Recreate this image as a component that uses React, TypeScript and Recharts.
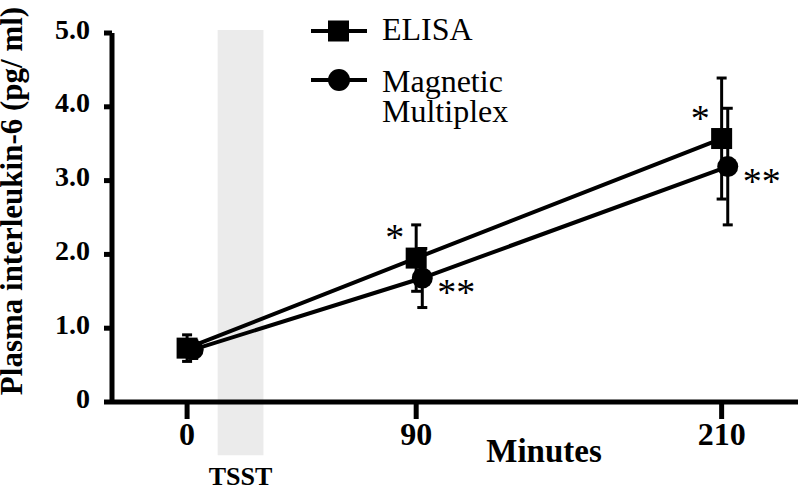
import {
  ComposedChart,
  ErrorBar,
  LabelList,
  Legend,
  Line,
  ReferenceArea,
  XAxis,
  YAxis,
} from "recharts";

// IL-6 plasmático medido por ELISA e por multiplex magnético, antes e depois do TSST
const minutes = [0, 90, 210];
const elisaMean = [0.73, 1.95, 3.57];
const elisaErr = [0.18, 0.45, 0.82];
const elisaSig = ["", "*", "*"];
const multiplexMean = [0.71, 1.68, 3.19];
const multiplexErr = [0.12, 0.4, 0.79];
const multiplexSig = ["", "**", "**"];
const yTicks = [0, 1, 2, 3, 4, 5];
const tsstWindow = [12, 30]; // minutos
const legendLines = [["ELISA"], ["Magnetic", "Multiplex"]];

const DODGE = 2.4; // desloca a série multiplex para as barras não se sobreporem
const SERIF = '"Liberation Serif", "Times New Roman", serif';

const elisaData = minutes.map((t, i) => ({ t, v: elisaMean[i], err: elisaErr[i], sig: elisaSig[i] }));
const multiplexData = minutes.map((t, i) => ({ t: t + DODGE, v: multiplexMean[i], err: multiplexErr[i], sig: multiplexSig[i] }));

const YTick = ({ x, y, payload }: any) => (
  <text x={x} y={y} dy={-4} textAnchor="end" dominantBaseline="central" style={{ fontFamily: SERIF }} fontWeight="bold" fontSize={28} fill="#000">
    {payload.value === 0 ? "0" : payload.value.toFixed(1)}
  </text>
);

const XTick = ({ x, y, payload }: any) => (
  <text x={x} y={y} dy={24} textAnchor="middle" style={{ fontFamily: SERIF }} fontWeight="bold" fontSize={32} fill="#000">
    {payload.value}
  </text>
);

const squareDot = (p: any) => (
  <rect key={`sq-${p.index}`} x={p.cx - 10.5} y={p.cy - 10.5} width={21} height={21} fill="#000" />
);
const circleDot = (p: any) => <circle key={`ci-${p.index}`} cx={p.cx} cy={p.cy} r={10.5} fill="#000" />;

// asteriscos: ELISA acima/esquerda, multiplex abaixo/direita
const sigLabel = (side: "left" | "right") => (props: any) => {
  const { value } = props;
  if (!value) return null;
  const x = props.x ?? props.viewBox?.x;
  const y = props.y ?? props.viewBox?.y;
  return side === "left" ? (
    <text x={x - 12} y={y - 8} textAnchor="end" style={{ fontFamily: SERIF }} fontSize={38} fill="#000">{value}</text>
  ) : (
    <text x={x + 15} y={y + 27} textAnchor="start" style={{ fontFamily: SERIF }} fontSize={38} fill="#000">{value}</text>
  );
};

const LegendBox = () => (
  <svg width={260} height={130} style={{ fontFamily: SERIF }}>
    <line x1={11} x2={67} y1={31} y2={31} stroke="#000" strokeWidth={4} />
    <rect x={28} y={20.5} width={21} height={21} fill="#000" />
    <text x={82} y={40} fontSize={32} fill="#000">{legendLines[0][0]}</text>
    <line x1={11} x2={67} y1={80} y2={80} stroke="#000" strokeWidth={4} />
    <circle cx={39} cy={80} r={11} fill="#000" />
    {legendLines[1].map((s, i) => (
      <text key={s} x={82} y={92 + i * 30} fontSize={32} fill="#000">{s}</text>
    ))}
  </svg>
);

export default function App() {
  return (
    <div style={{ width: 800, height: 487 }}>
      <style>{"body{margin:0}"}</style>
      <ComposedChart width={800} height={487} margin={{ top: 33, right: 2, bottom: 0, left: 0 }}>
        <ReferenceArea
          x1={tsstWindow[0]}
          x2={tsstWindow[1]}
          y1={-0.72}
          y2={5.04}
          fill="#ebebeb"
          fillOpacity={1}
          stroke="none"
          ifOverflow="visible"
          label={{ value: "TSST", position: "bottom", offset: 11, fontFamily: SERIF, fontWeight: "bold", fontSize: 26, fill: "#000" }}
        />
        <XAxis
          dataKey="t"
          type="number"
          domain={[-29.5, 240]}
          allowDataOverflow
          ticks={minutes}
          height={85}
          tickSize={17}
          tick={<XTick />}
          axisLine={{ stroke: "#000", strokeWidth: 5 }}
          tickLine={{ stroke: "#000", strokeWidth: 5 }}
          label={(p: any) => (
            <text x={p.viewBox.x + 432} y={p.viewBox.y + 60} textAnchor="middle" style={{ fontFamily: SERIF }} fontWeight="bold" fontSize={33} fill="#000">
              Minutes
            </text>
          )}
        />
        <YAxis
          type="number"
          domain={[0, 5]}
          allowDataOverflow
          ticks={yTicks}
          width={112}
          tickSize={8}
          tickMargin={14}
          tick={<YTick />}
          axisLine={{ stroke: "#000", strokeWidth: 5 }}
          tickLine={{ stroke: "#000", strokeWidth: 5 }}
          label={(p: any) => (
            <text
              x={22}
              y={p.viewBox.y + 168}
              transform={`rotate(-90, 22, ${p.viewBox.y + 168})`}
              textAnchor="middle"
              style={{ fontFamily: SERIF }}
              fontWeight="bold"
              fontSize={31}
              fill="#000"
            >
              Plasma interleukin-6 (pg/ ml)
            </text>
          )}
        />
        <Legend layout="vertical" align="center" verticalAlign="middle" content={<LegendBox />}
          wrapperStyle={{ left: 300, top: 0, width: 260, height: 130 }} />
        <Line data={elisaData} dataKey="v" name="ELISA" stroke="#000" strokeWidth={4} dot={squareDot} isAnimationActive={false}>
          <ErrorBar dataKey="err" direction="y" width={5} strokeWidth={3} stroke="#000" isAnimationActive={false} />
          <LabelList dataKey="sig" content={sigLabel("left")} />
        </Line>
        <Line data={multiplexData} dataKey="v" name="Magnetic Multiplex" stroke="#000" strokeWidth={4} dot={circleDot} isAnimationActive={false}>
          <ErrorBar dataKey="err" direction="y" width={5} strokeWidth={3} stroke="#000" isAnimationActive={false} />
          <LabelList dataKey="sig" content={sigLabel("right")} />
        </Line>
      </ComposedChart>
    </div>
  );
}
